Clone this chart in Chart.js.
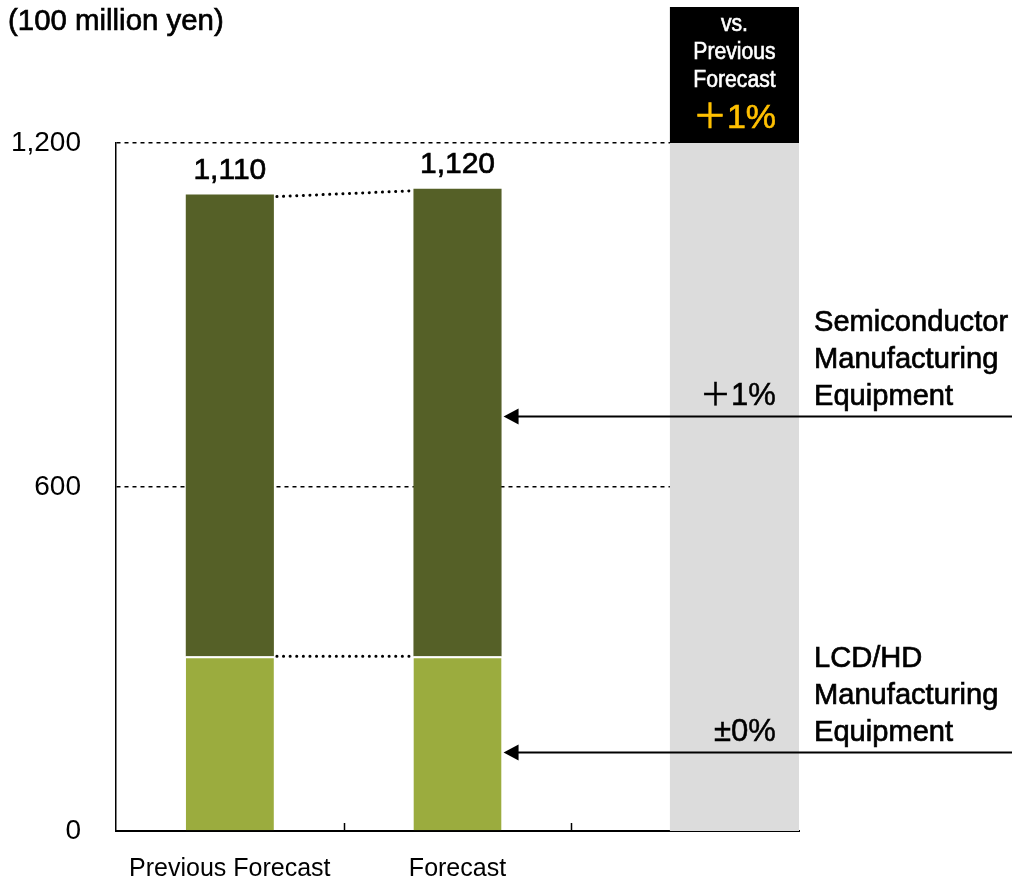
<!DOCTYPE html>
<html>
<head>
<meta charset="utf-8">
<script src="https://cdn.jsdelivr.net/npm/chart.js@4.4.1/dist/chart.umd.min.js"></script>
<style>
  html, body { margin: 0; padding: 0; background: #fff; }
  #wrap { width: 1012px; height: 883px; position: relative; }
</style>
</head>
<body>
<div id="wrap"><canvas id="chart" width="1012" height="883"></canvas></div>
<script>
// chart data
const categories = ["Previous Forecast", "Forecast", ""];
const lcdValues = [305, 305, null];
const semiValues = [805, 815, null];
const totals = ["1,110", "1,120"];
const yTicks = [0, 600, 1200];
const unitLabel = "(100 million yen)";
const segmentNames = [["Semiconductor", "Manufacturing", "Equipment"], ["LCD/HD", "Manufacturing", "Equipment"]];
const segmentChanges = ["＋1%", "±0%"];
const arrowValues = [724, 138];
const headerLines = ["vs.", "Previous", "Forecast"];
const headerChange = "＋1%";

const SANS = '"Liberation Sans", Arial, "Noto Sans CJK JP", sans-serif';

// text with a slightly heavier stroke
function heavyText(ctx, t, x, y, w) {
  ctx.fillText(t, x, y);
  ctx.lineWidth = w || 0.7;
  ctx.strokeStyle = ctx.fillStyle;
  ctx.strokeText(t, x, y);
}

const overlay = {
  id: "overlay",
  beforeDatasetsDraw(chart) {
    const { ctx, chartArea, scales } = chart;
    const x = scales.x;
    const catW = x.getPixelForValue(1) - x.getPixelForValue(0);
    const bandL = chartArea.right - catW * 0.567;
    // gray comparison column
    ctx.save();
    ctx.fillStyle = "#dcdcdc";
    ctx.fillRect(bandL, chartArea.top, chartArea.right - bandL, chartArea.bottom - chartArea.top);
    // black header
    ctx.fillStyle = "#000";
    ctx.fillRect(bandL, 7, chartArea.right - bandL, chartArea.top - 7);
    const cx = (bandL + chartArea.right) / 2;
    ctx.fillStyle = "#fff";
    ctx.textAlign = "center";
    ctx.textBaseline = "middle";
    ctx.font = "23px " + SANS;
    headerLines.forEach((t, i) => {
      ctx.save();
      ctx.translate(cx, 25 + i * 28);
      ctx.scale(0.92, 1);
      heavyText(ctx, t, 0, 0, 0.6);
      ctx.restore();
    });
    ctx.fillStyle = "#ffc000";
    ctx.font = "34px " + SANS;
    heavyText(ctx, headerChange, cx, 119, 0.6);
    ctx.restore();
  },
  afterDatasetsDraw(chart) {
    const { ctx, chartArea, scales } = chart;
    const x = scales.x, y = scales.y;
    const catW = x.getPixelForValue(1) - x.getPixelForValue(0);
    const barW = catW * chart.options.datasets.bar.barPercentage;
    const bandL = chartArea.right - catW * 0.567;
    ctx.save();
    // x-axis inner ticks
    ctx.strokeStyle = "#000";
    ctx.lineWidth = 1.5;
    for (let i = 1; i < categories.length; i++) {
      const px = Math.round(x.getPixelForValue(i) - catW / 2) + 0.5;
      ctx.beginPath();
      ctx.moveTo(px, chartArea.bottom);
      ctx.lineTo(px, chartArea.bottom - 8);
      ctx.stroke();
    }
    // dotted connectors
    ctx.setLineDash([0.1, 6.5]);
    ctx.lineCap = "round";
    ctx.lineWidth = 3;
    const x0 = x.getPixelForValue(0) + barW / 2;
    const x1 = x.getPixelForValue(1) - barW / 2;
    const top0 = y.getPixelForValue(lcdValues[0] + semiValues[0]);
    const top1 = y.getPixelForValue(lcdValues[1] + semiValues[1]);
    ctx.beginPath(); ctx.moveTo(x0 + 3, top0 + 2); ctx.lineTo(x1 - 3, top1 + 2); ctx.stroke();
    const l0 = y.getPixelForValue(lcdValues[0]);
    ctx.beginPath(); ctx.moveTo(x0 + 3, l0); ctx.lineTo(x1 - 3, l0); ctx.stroke();
    ctx.setLineDash([]);
    ctx.lineCap = "butt";
    // totals above bars
    ctx.fillStyle = "#000";
    ctx.font = "30px " + SANS;
    ctx.textAlign = "center";
    ctx.textBaseline = "bottom";
    totals.forEach((t, i) => {
      const top = y.getPixelForValue(lcdValues[i] + semiValues[i]);
      heavyText(ctx, t, x.getPixelForValue(i), top - 9);
    });
    // unit label
    ctx.textAlign = "left";
    ctx.textBaseline = "middle";
    ctx.font = "30px " + SANS;
    ctx.save();
    ctx.translate(8, 22);
    ctx.scale(0.98, 1);
    heavyText(ctx, unitLabel, 0, 0);
    ctx.restore();
    // arrows, segment names and changes
    arrowValues.forEach((v, k) => {
      const ay = Math.round(y.getPixelForValue(v)) + 0.5;
      const tip = x.getPixelForValue(1) + barW / 2 + 2;
      ctx.strokeStyle = "#000";
      ctx.lineWidth = 2;
      ctx.beginPath(); ctx.moveTo(chart.width, ay); ctx.lineTo(tip + 12, ay); ctx.stroke();
      ctx.beginPath();
      ctx.moveTo(tip, ay); ctx.lineTo(tip + 15, ay - 8); ctx.lineTo(tip + 15, ay + 8); ctx.closePath();
      ctx.fill();
      ctx.textBaseline = "alphabetic";
      ctx.textAlign = "left";
      ctx.font = "30px " + SANS;
      const lines = segmentNames[k];
      lines.forEach((t, i) => {
        ctx.save();
        ctx.translate(chartArea.right + 15, ay - 12 - (lines.length - 1 - i) * 37);
        ctx.scale(0.97, 1);
        heavyText(ctx, t, 0, 0);
        ctx.restore();
      });
      ctx.textAlign = "right";
      ctx.font = "31px " + SANS;
      heavyText(ctx, segmentChanges[k], bandL + 106, ay - 12, 0.5);
    });
    ctx.restore();
  }
};

new Chart(document.getElementById("chart"), {
  type: "bar",
  data: {
    labels: categories,
    datasets: [
      { label: "LCD/HD Manufacturing Equipment", data: lcdValues, backgroundColor: "#9bac3e",
        borderColor: "#ffffff", borderWidth: { top: 2 }, borderSkipped: false },
      { label: "Semiconductor Manufacturing Equipment", data: semiValues, backgroundColor: "#556027" }
    ]
  },
  options: {
    responsive: false,
    animation: false,
    events: [],
    layout: { padding: { top: 143, right: 213, left: 0, bottom: 0 } },
    datasets: { bar: { categoryPercentage: 1, barPercentage: 0.387 } },
    plugins: { legend: { display: false }, tooltip: { enabled: false }, title: { display: false } },
    scales: {
      x: {
        stacked: true,
        grid: { display: false },
        border: { display: true, color: "#000", width: 2 },
        ticks: { color: "#000", font: { family: SANS, size: 25 }, padding: 15 },
        afterFit(s) { s.height = 52; }
      },
      y: {
        stacked: true,
        min: 0, max: 1200,
        afterBuildTicks(s) { s.ticks = yTicks.map(v => ({ value: v })); },
        grid: {
          color: c => c.tick && c.tick.value === 0 ? "rgba(0,0,0,0)" : "#000",
          lineWidth: 1.5,
          tickLength: 0,
          drawTicks: false
        },
        border: { display: true, color: "#000", width: 1.5, dash: [4, 4] },
        ticks: {
          color: "#000", padding: 35,
          font: { family: SANS, size: 28 },
          callback: v => v.toLocaleString("en-US")
        },
        afterFit(s) { s.width = 116; }
      }
    }
  },
  plugins: [overlay]
});
</script>
</body>
</html>
